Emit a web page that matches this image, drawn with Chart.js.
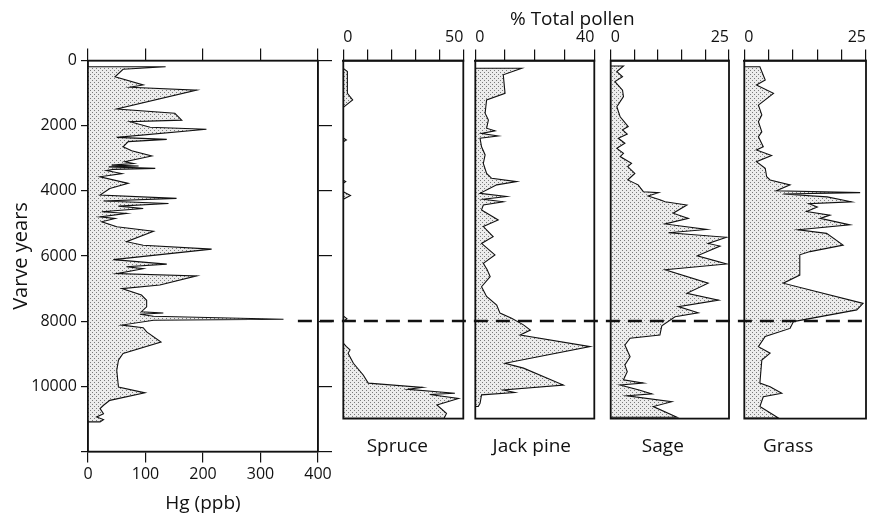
<!DOCTYPE html>
<html>
<head>
<meta charset="utf-8">
<script src="https://cdn.jsdelivr.net/npm/chart.js@4/dist/chart.umd.min.js"></script>
<style>
    html, body { margin: 0; padding: 0; background: #fff; }
    #wrap { position: relative; width: 871px; height: 516px; overflow: hidden; }
    #wrap canvas { position: absolute; top: 0; left: 0; }
    #pollen-title {
        position: absolute; left: 510px; top: 9px;
        font: 19px 'Open Sans', sans-serif; line-height: 19px;
        color: #111; white-space: nowrap;
    }
</style>
</head>
<body>
<div id="wrap">
    <canvas id="hg" width="871" height="516"></canvas>
    <canvas id="spruce" width="871" height="516"></canvas>
    <canvas id="jackpine" width="871" height="516"></canvas>
    <canvas id="sage" width="871" height="516"></canvas>
    <canvas id="grass" width="871" height="516"></canvas>
    <div id="pollen-title">% Total pollen</div>
</div>
<script>
// ---- data (varve years, top = youngest) ----
const hgYears = [190, 270, 500, 750, 820, 910, 1490, 1620, 1830, 1880, 2050, 2110, 2360, 2420, 2490, 2650, 2770, 2930,
    3110, 3160, 3210, 3240, 3265, 3310, 3340, 3380, 3470, 3570, 3770, 3930, 4130, 4230, 4310, 4390, 4470, 4540, 4640, 4690,
    4800, 4850, 4950, 5100, 5240, 5560, 5670, 5790, 6110, 6250, 6330, 6390, 6540, 6610, 6890, 7000, 7200, 7360, 7560, 7710,
    7750, 7790, 7850, 7940, 7970, 8120, 8200, 8330, 8640, 8990, 9200, 9510, 10020, 10200, 10430, 10580, 10680, 10840,
    10940, 11020, 11090];
const hgValues = [135, 61, 47, 96, 73, 189, 50, 151, 163, 73, 108, 206, 50, 137, 70, 61, 76, 111,
    64, 79, 41, 88, 36, 117, 45, 32, 59, 21, 70, 38, 21, 154, 27, 140, 53, 96, 24, 67,
    21, 47, 24, 50, 114, 67, 96, 215, 44, 137, 67, 96, 50, 189, 125, 59, 93, 102, 102, 93,
    131, 90, 114, 340, 114, 59, 96, 102, 127, 61, 53, 50, 53, 99, 38, 27, 21, 27,
    15, 27, 21];

const spruceYears = [240, 340, 1010, 1210, 1440, 2380, 2440, 2500, 3680, 3720, 3770, 4030, 4150, 4260, 7850, 7930, 8020,
    8680, 8780, 8890, 8990, 9300, 9660, 9910, 10040, 10100, 10220, 10260, 10380, 10580, 10840, 10990];
const spruceValues = [0, 1.7, 1.7, 3.9, 0, 0, 1.3, 0, 0, 1.0, 0, 0, 3.0, 0, 0, 1.5, 0,
    0, 1.2, 2.8, 2.0, 4.2, 8.3, 10.4, 33, 27, 46.5, 36, 48, 39, 43, 42];

const jackPineYears = [240, 440, 1010, 1210, 1620, 1830, 2080, 2160, 2240, 2320, 2390, 2650, 2900, 3160, 3470, 3620, 3720,
    3820, 4080, 4180, 4260, 4340, 4440, 4590, 4900, 5100, 5410, 5620, 5970, 6230, 6430, 6640, 6950, 7250, 7510, 7760,
    7920, 8120, 8280, 8430, 8790, 9300, 9450, 9970, 10120, 10200, 10270, 10530, 10630];
const jackPineValues = [15.6, 9.4, 10.0, 3.8, 3.3, 4.4, 3.8, 6.6, 2.1, 7.7, 1.6, 2.1, 3.3, 2.7, 3.8, 5.5, 13.9,
    7.2, 1.6, 10.5, 2.7, 9.4, 2.7, 2.1, 7.7, 2.7, 6.0, 2.1, 6.6, 2.7, 4.0, 5.0, 2.1, 3.8, 7.2, 8.3,
    12.2, 16.2, 18.5, 15.1, 38.6, 10.0, 16.2, 29.6, 9.4, 13.3, 2.1, 1.6, 1.0];

const sageYears = [170, 340, 500, 650, 910, 1110, 1420, 1730, 2030, 2130, 2260, 2390, 2540, 2700, 2850, 2950, 3160, 3260,
    3470, 3670, 3820, 4030, 4060, 4160, 4280, 4340, 4440, 4690, 4850, 5020, 5190, 5290, 5430, 5620, 5700, 6000, 6250,
    6430, 6840, 7150, 7360, 7560, 7750, 7870, 8150, 8430, 8530, 8740, 9100, 9350, 9560, 9810, 9910, 9970, 10120, 10240,
    10300, 10480, 10630, 10960];
const sageValues = [2.7, 1.3, 2.5, 0.9, 2.5, 2.7, 1.3, 2.0, 3.7, 2.5, 3.5, 1.6, 3.0, 1.3, 2.7, 2.0, 4.4, 3.6,
    5.1, 3.6, 5.8, 6.9, 10.1, 7.9, 10.4, 11.5, 16.1, 13.2, 16.4, 11.5, 20.3, 12.2, 24.5, 20.6, 23.1, 18.3, 24.5,
    11.5, 20.6, 16.1, 22.8, 14.3, 18.5, 13.6, 10.8, 10.4, 4.1, 3.0, 4.1, 3.0, 3.5, 2.7, 6.9, 2.0, 6.0, 8.7,
    3.5, 12.9, 9.0, 14.0];

const grassYears = [190, 600, 750, 1010, 1370, 1670, 1880, 2190, 2340, 2650, 2750, 2920, 3110, 3310, 3570, 3670, 3820,
    4000, 4060, 4100, 4190, 4340, 4400, 4500, 4640, 4750, 4850, 5050, 5200, 5310, 5670, 5870, 5970, 6590, 6840, 7460,
    7660, 8020, 8230, 8480, 8790, 8990, 9200, 9910, 10020, 10220, 10330, 10630, 10980];
const grassValues = [3.2, 4.3, 2.5, 6.0, 2.9, 3.6, 2.9, 3.6, 2.9, 3.9, 2.5, 5.6, 2.5, 4.3, 4.6, 5.3, 9.4,
    6.6, 23.8, 8.0, 17.0, 22.0, 13.3, 15.0, 12.8, 17.6, 15.6, 21.7, 11.1, 16.9, 20.3, 13.5, 11.4, 11.4, 8.0, 24.4,
    23.1, 10.1, 9.4, 4.3, 2.9, 5.3, 3.6, 3.2, 5.3, 7.7, 3.9, 3.2, 7.0];

// tick labels
const yearTicks = [0, 2000, 4000, 6000, 8000, 10000, 12000];
const hgTicks = [0, 100, 200, 300, 400];
const spruceTicks = [0, 10, 20, 30, 40, 50];
const jackPineTicks = [0, 10, 20, 30, 40];
const sageTicks = [0, 5, 10, 15, 20, 25];
const grassTicks = [0, 5, 10, 15, 20, 25];

const markerYear = 8000;     // dashed line
const markerHgStart = 365;   // where the dash begins on the Hg panel
const hgYearMax = 12000;
const pollenYearMax = 11000;

// ---- look ----
const FONT = "'Open Sans', sans-serif";
const INK = '#111';
const W = 871;
const H = 516;
const AREA_TOP = 60.5;
const HG_BOTTOM = 451.5;
const POLLEN_BOTTOM = 418.6;

Chart.defaults.font.family = FONT;
Chart.defaults.color = INK;

function stipple() {
    const c = document.createElement('canvas');
    c.width = 4;
    c.height = 4;
    const g = c.getContext('2d');
    g.fillStyle = '#ececec';
    g.fillRect(0, 0, 4, 4);
    g.fillStyle = '#7a7a7a';
    g.fillRect(0, 0, 1, 1);
    g.fillRect(2, 2, 1, 1);
    return g.createPattern(c, 'repeat');
}
const dots = stipple();

function profile(years, values) {
    const pts = years.map((y, i) => ({ x: values[i], y }));
    return [{ x: 0, y: years[0] }, ...pts, { x: 0, y: years[years.length - 1] }];
}

function dataset(years, values) {
    return {
        data: profile(years, values),
        xAxisID: 'x',
        yAxisID: 'y',
        borderColor: INK,
        borderWidth: 1.1,
        backgroundColor: dots,
        fill: 'origin',
        pointRadius: 0,
        pointHoverRadius: 0,
        tension: 0,
    };
}

const setTicks = (list) => (scale) => { scale.ticks = list.map(v => ({ value: v })); };

// box round the chart area
const frame = (width) => ({
    id: 'frame',
    afterDatasetsDraw(chart) {
        const { ctx, chartArea: a } = chart;
        ctx.save();
        ctx.strokeStyle = INK;
        ctx.lineWidth = width;
        ctx.strokeRect(a.left, a.top, a.right - a.left, a.bottom - a.top);
        ctx.restore();
    }
});

// taxon name under a pollen panel
const panelName = (text, dx) => ({
    id: 'panelName',
    afterDraw(chart) {
        const { ctx, chartArea: a } = chart;
        ctx.save();
        ctx.font = `19px ${FONT}`;
        ctx.fillStyle = INK;
        ctx.textAlign = 'center';
        ctx.textBaseline = 'alphabetic';
        ctx.fillText(text, (a.left + a.right) / 2 + dx, 452);
        ctx.restore();
    }
});

const base = {
    type: 'line',
    options: {
        responsive: false,
        animation: false,
        events: [],
        indexAxis: 'y',
        plugins: { legend: { display: false }, tooltip: { enabled: false } },
    },
};

// ---- Hg panel ----
const hgChart = new Chart(document.getElementById('hg'), {
    ...base,
    data: { datasets: [dataset(hgYears, hgValues)] },
    options: {
        ...base.options,
        layout: { padding: { left: 0, top: 0, bottom: 0, right: W - 336 } },
        scales: {
            x: {
                type: 'linear', position: 'bottom', min: 0, max: 400,
                afterBuildTicks: setTicks(hgTicks),
                ticks: { callback: v => String(v), font: { size: 16 }, padding: 2, maxRotation: 0, autoSkip: false },
                grid: { drawOnChartArea: false, tickLength: 11, color: INK, lineWidth: 1.2 },
                border: { display: true, color: INK, width: 1.5 },
                title: { display: true, text: 'Hg (ppb)', font: { size: 19 }, padding: { top: 0, bottom: 1 } },
                afterFit: s => { s.height = H - HG_BOTTOM; s.paddingLeft = 0; s.paddingRight = 0; },
            },
            xTop: {
                type: 'linear', axis: 'x', position: 'top', min: 0, max: 400,
                afterBuildTicks: setTicks(hgTicks),
                ticks: { display: false },
                grid: { drawOnChartArea: false, tickLength: 12, color: INK, lineWidth: 1.2 },
                border: { display: true, color: INK, width: 1.5 },
                afterFit: s => { s.height = AREA_TOP; s.paddingLeft = 0; s.paddingRight = 0; },
            },
            y: {
                type: 'linear', reverse: true, min: 0, max: hgYearMax,
                afterBuildTicks: setTicks(yearTicks),
                ticks: { callback: v => (v === hgYearMax ? '' : String(v)), font: { size: 16 }, padding: 4 },
                grid: { drawOnChartArea: false, tickLength: 7, color: INK, lineWidth: 1.2 },
                border: { display: true, color: INK, width: 1.5 },
                title: { display: true, text: 'Varve years', font: { size: 20 }, padding: { top: 9, bottom: 0 } },
                afterFit: s => { s.width = 88; s.paddingTop = 0; s.paddingBottom = 0; },
            },
            yRight: {
                type: 'linear', axis: 'y', position: 'right', reverse: true, min: 0, max: hgYearMax,
                afterBuildTicks: setTicks(yearTicks),
                ticks: { display: false },
                grid: { drawOnChartArea: false, tickLength: 14, color: INK, lineWidth: 1.2 },
                border: { display: true, color: INK, width: 1.5 },
                afterFit: s => { s.width = 18; s.paddingTop = 0; s.paddingBottom = 0; },
            },
        },
    },
    plugins: [frame(1.5)],
});

// dashed line at the marker year, from the Hg panel across to the last pollen panel
const marker = {
    id: 'marker',
    afterDraw(chart) {
        const { ctx } = chart;
        const y = chart.scales.y.getPixelForValue(markerYear);
        const x0 = hgChart.scales.x.getPixelForValue(markerHgStart);
        const x1 = chart.chartArea.right;
        ctx.save();
        ctx.strokeStyle = INK;
        ctx.lineWidth = 2.4;
        ctx.setLineDash([14, 8]);
        ctx.beginPath();
        ctx.moveTo(x0, y);
        ctx.lineTo(x1, y);
        ctx.stroke();
        ctx.restore();
    }
};

// ---- pollen panels ----
function pollenChart(id, name, years, values, ticks, max, area, nameDx, extra) {
    return new Chart(document.getElementById(id), {
        ...base,
        data: { datasets: [dataset(years, values)] },
        options: {
            ...base.options,
            layout: { padding: { left: area[0], right: W - area[1], top: 0, bottom: H - POLLEN_BOTTOM } },
            scales: {
                x: {
                    type: 'linear', position: 'top', min: 0, max,
                    afterBuildTicks: setTicks(ticks),
                    ticks: {
                        callback: v => (v === 0 || v === max ? String(v) : ''),
                        font: { size: 16 }, padding: 2, align: 'inner', maxRotation: 0, autoSkip: false,
                    },
                    grid: { drawOnChartArea: false, tickLength: 11, color: INK, lineWidth: 1.2 },
                    border: { display: true, color: INK, width: 1.8 },
                    afterFit: s => { s.height = AREA_TOP; s.paddingLeft = 0; s.paddingRight = 0; },
                },
                y: { type: 'linear', reverse: true, min: 0, max: pollenYearMax, display: false },
            },
        },
        plugins: [frame(1.8), panelName(name, nameDx), ...extra],
    });
}

pollenChart('spruce', 'Spruce', spruceYears, spruceValues, spruceTicks, 50, [343.3, 463.3], -6, []);
pollenChart('jackpine', 'Jack pine', jackPineYears, jackPineValues, jackPineTicks, 40, [475.3, 594.3], -3, []);
pollenChart('sage', 'Sage', sageYears, sageValues, sageTicks, 25, [610.7, 729], -7, []);
pollenChart('grass', 'Grass', grassYears, grassValues, grassTicks, 25, [744.3, 866], -17, [marker]);
</script>
</body>
</html>
